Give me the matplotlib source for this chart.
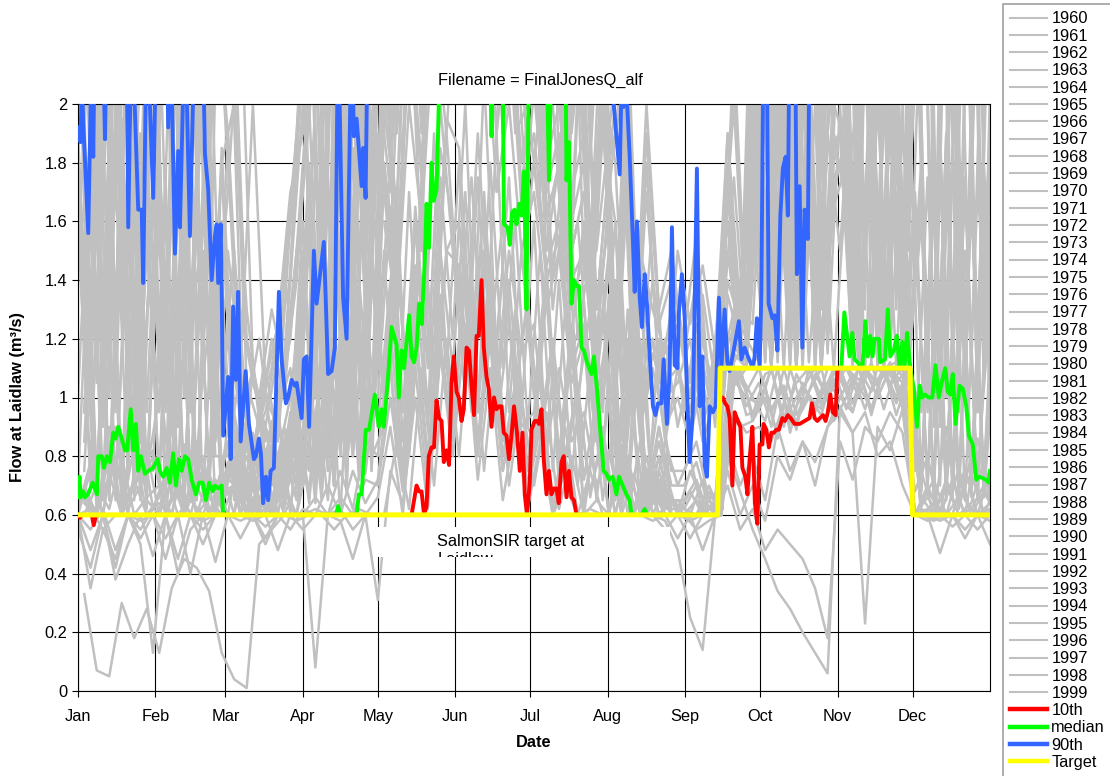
import matplotlib
matplotlib.use('Agg')
import matplotlib.pyplot as plt
from matplotlib.patches import Rectangle

plt.rcParams['font.family'] = ['Liberation Sans', 'DejaVu Sans']
plt.rcParams['font.size'] = 11.8

month_days = [0, 31, 59, 90, 120, 151, 181, 212, 243, 273, 304, 334]
month_labels = ['Jan', 'Feb', 'Mar', 'Apr', 'May', 'Jun',
                'Jul', 'Aug', 'Sep', 'Oct', 'Nov', 'Dec']
flow_ticks = [0, 0.2, 0.4, 0.6, 0.8, 1.0, 1.2, 1.4, 1.6, 1.8, 2.0]
flow_tick_labels = ['0', '0.2', '0.4', '0.6', '0.8', '1', '1.2', '1.4', '1.6', '1.8', '2']

# simulated flow for each year, every 5th day, in hundredths of m3/s
sample_days = list(range(0, 366, 5))
q1960 = [180, 95, 260, 110, 310, 120, 250, 100, 330, 130, 220, 90, 190, 95, 80, 110, 85, 140,
         230, 100, 290, 120, 340, 150, 380, 200, 450, 250, 520, 300, 610, 350, 540, 300, 470, 260,
         420, 200, 350, 180, 300, 150, 240, 110, 210, 95, 120, 85, 110, 90, 120, 100, 180, 115,
         220, 120, 280, 130, 340, 125, 300, 410, 130, 350, 120, 290, 140, 250, 95, 310, 110, 260, 100, 190]
q1961 = [85, 170, 70, 190, 75, 180, 110, 65, 170, 70, 155, 65, 70, 60, 95, 60, 80, 65,
         110, 65, 160, 75, 180, 80, 180, 120, 240, 150, 290, 210, 330, 240, 280, 190, 250, 170,
         220, 150, 180, 120, 160, 95, 110, 65, 150, 60, 120, 60, 60, 60, 70, 60, 115, 110,
         180, 110, 200, 110, 190, 115, 210, 210, 112, 180, 110, 190, 110, 95, 170, 70, 180, 75, 160, 85]
q1962 = [60, 75, 60, 90, 62, 70, 80, 60, 95, 65, 60, 72, 60, 85, 62, 90, 66, 95,
         70, 105, 65, 120, 80, 130, 90, 140, 75, 160, 95, 175, 120, 200, 95, 180, 110, 160,
         90, 150, 75, 130, 70, 110, 65, 95, 60, 85, 60, 70, 60, 60, 60, 60, 100, 108,
         100, 92, 110, 88, 105, 95, 110, 110, 98, 110, 104, 112, 100, 60, 70, 60, 85, 65, 60, 75]
q1963 = [240, 105, 290, 130, 220, 95, 190, 280, 100, 230, 120, 300, 210, 105, 90, 120, 100, 150,
         160, 240, 110, 310, 140, 280, 300, 420, 220, 480, 260, 560, 470, 590, 300, 500, 280, 440,
         310, 380, 170, 290, 140, 240, 170, 210, 100, 180, 105, 130, 95, 125, 100, 140, 200, 120,
         250, 130, 320, 115, 280, 140, 350, 290, 380, 120, 310, 130, 270, 320, 90, 260, 120, 290, 105, 250]
q1964 = [160, 70, 190, 65, 170, 85, 75, 175, 70, 190, 65, 150, 90, 65, 110, 75, 60, 85,
         70, 150, 75, 180, 80, 190, 150, 230, 180, 270, 200, 310, 260, 340, 220, 290, 210, 250,
         180, 230, 140, 190, 120, 150, 95, 160, 70, 140, 65, 85, 70, 80, 60, 65, 120, 140,
         160, 115, 210, 112, 220, 110, 190, 150, 220, 110, 200, 115, 190, 160, 70, 190, 75, 170, 65, 150]
q1965 = [70, 60, 85, 60, 95, 65, 60, 90, 62, 78, 60, 68, 80, 60, 95, 62, 85, 70,
         110, 68, 125, 75, 140, 90, 150, 80, 170, 95, 190, 110, 180, 100, 210, 115, 175, 95,
         160, 80, 140, 72, 120, 65, 100, 62, 90, 60, 75, 60, 60, 60, 60, 60, 110, 94,
         96, 110, 90, 108, 100, 94, 110, 102, 110, 96, 110, 105, 110, 75, 60, 90, 62, 80, 60, 70]
q1966 = [150, 230, 90, 200, 280, 100, 220, 95, 260, 110, 210, 85, 120, 95, 75, 90, 80, 100,
         140, 190, 95, 230, 120, 250, 330, 180, 410, 220, 460, 260, 520, 300, 580, 330, 400, 250,
         360, 170, 320, 160, 270, 130, 200, 95, 175, 90, 110, 90, 100, 85, 110, 95, 150, 120,
         180, 115, 230, 125, 260, 130, 240, 330, 125, 290, 135, 260, 120, 210, 280, 95, 240, 110, 260, 90]
q1967 = [95, 180, 65, 160, 70, 190, 170, 70, 150, 65, 180, 75, 70, 80, 60, 90, 65, 60,
         95, 160, 70, 175, 80, 160, 200, 160, 260, 190, 320, 250, 380, 290, 330, 250, 300, 220,
         250, 190, 210, 150, 170, 110, 150, 70, 140, 65, 90, 65, 62, 70, 60, 60, 125, 115,
         190, 112, 170, 110, 200, 118, 165, 180, 110, 200, 115, 170, 110, 70, 180, 75, 165, 68, 150, 140]
q1968 = [60, 48, 60, 42, 60, 55, 62, 60, 70, 60, 58, 60, 60, 60, 60, 52, 60, 60,
         60, 66, 60, 75, 62, 85, 80, 125, 70, 140, 90, 150, 110, 170, 95, 145, 85, 130,
         75, 110, 62, 90, 60, 75, 60, 60, 60, 60, 60, 60, 60, 58, 60, 60, 95, 90,
         92, 100, 88, 96, 104, 98, 105, 100, 108, 96, 110, 105, 110, 60, 66, 60, 72, 60, 60, 62]
q1969 = [290, 120, 330, 140, 190, 270, 105, 240, 130, 310, 100, 180, 200, 130, 95, 110, 140, 190,
         270, 120, 330, 150, 380, 170, 420, 250, 500, 300, 590, 330, 560, 640, 350, 550, 300, 510,
         390, 220, 300, 190, 230, 150, 190, 230, 110, 200, 130, 150, 115, 140, 105, 120, 220, 125,
         300, 135, 260, 120, 310, 145, 380, 350, 150, 420, 130, 360, 160, 280, 115, 340, 130, 300, 120, 270]
q1970 = [160, 75, 185, 70, 155, 65, 180, 68, 170, 70, 150, 80, 80, 110, 70, 62, 90, 75,
         150, 70, 170, 80, 160, 75, 210, 170, 270, 220, 240, 300, 280, 350, 240, 270, 190, 230,
         160, 200, 130, 170, 100, 130, 80, 140, 65, 120, 65, 75, 60, 75, 65, 60, 118, 130,
         125, 200, 112, 210, 110, 200, 115, 200, 110, 240, 112, 190, 115, 160, 70, 180, 66, 150, 75, 130]
q1971 = [68, 60, 80, 60, 72, 60, 64, 60, 78, 60, 66, 60, 70, 88, 60, 78, 64, 92,
         68, 115, 72, 130, 78, 145, 100, 155, 85, 170, 105, 190, 130, 175, 105, 190, 95, 150,
         100, 145, 80, 125, 72, 100, 60, 88, 62, 80, 60, 66, 60, 60, 60, 60, 104, 110,
         110, 95, 104, 90, 110, 98, 106, 110, 100, 112, 96, 110, 104, 62, 60, 70, 60, 64, 78, 60]
q1972 = [200, 310, 100, 250, 90, 220, 260, 110, 230, 95, 280, 120, 170, 240, 110, 85, 95, 160,
         210, 100, 260, 130, 290, 350, 390, 220, 370, 520, 280, 600, 650, 380, 600, 330, 530, 290,
         430, 200, 370, 170, 290, 140, 220, 100, 200, 95, 140, 110, 130, 105, 120, 95, 170, 120,
         210, 260, 125, 240, 115, 290, 140, 260, 310, 130, 380, 120, 330, 290, 105, 350, 120, 300, 95, 280]
q1973 = [75, 160, 65, 175, 68, 150, 95, 170, 62, 165, 70, 140, 65, 90, 60, 60, 70, 80,
         85, 150, 70, 170, 75, 160, 160, 130, 200, 160, 230, 190, 260, 210, 240, 170, 200, 150,
         170, 130, 150, 105, 120, 85, 130, 65, 110, 62, 72, 60, 60, 65, 60, 60, 112, 120,
         112, 185, 110, 195, 112, 170, 110, 175, 112, 200, 110, 180, 115, 70, 165, 68, 155, 170, 72, 140]
q1974 = [170, 95, 320, 110, 240, 140, 200, 270, 90, 240, 105, 150, 150, 110, 200, 105, 125, 170,
         190, 260, 125, 300, 150, 330, 450, 260, 550, 300, 620, 350, 700, 450, 660, 400, 580, 330,
         480, 250, 420, 220, 350, 180, 260, 120, 230, 105, 160, 100, 150, 125, 145, 115, 190, 130,
         230, 120, 270, 140, 250, 115, 270, 310, 135, 280, 350, 125, 300, 240, 300, 100, 270, 115, 290, 250]
q1975 = [190, 70, 150, 195, 65, 160, 70, 175, 65, 160, 75, 185, 95, 70, 85, 60, 75, 95,
         170, 75, 190, 80, 200, 90, 250, 200, 310, 240, 350, 280, 420, 330, 370, 290, 330, 260,
         270, 210, 230, 170, 190, 130, 160, 70, 140, 68, 100, 75, 75, 85, 65, 70, 130, 120,
         210, 115, 190, 112, 220, 115, 200, 230, 115, 210, 110, 220, 112, 170, 70, 190, 65, 180, 72, 160]
q1976 = [62, 78, 60, 88, 65, 74, 82, 62, 70, 60, 76, 60, 90, 60, 80, 68, 96, 62,
         100, 72, 120, 82, 135, 95, 100, 165, 85, 145, 115, 185, 160, 110, 190, 120, 160, 100,
         135, 85, 115, 78, 100, 68, 85, 60, 78, 60, 68, 60, 60, 60, 60, 60, 98, 110,
         92, 104, 86, 110, 96, 108, 100, 108, 95, 110, 100, 110, 96, 68, 80, 60, 72, 60, 86, 66]
q1977 = [33, 7, 5, 30, 18, 28, 13, 35, 45, 42, 34, 13, 4, 1, 50, 55, 60, 58,
         60, 60, 55, 60, 62, 60, 60, 85, 62, 110, 70, 120, 80, 135, 75, 120, 70, 100,
         70, 95, 62, 80, 60, 65, 60, 60, 60, 60, 60, 60, 60, 55, 58, 60, 95, 88,
         90, 85, 98, 92, 100, 96, 104, 110, 106, 110, 110, 112, 110, 60, 58, 60, 60, 62, 60, 60]
q1978 = [100, 190, 68, 175, 72, 190, 180, 66, 195, 70, 170, 62, 85, 60, 75, 65, 95, 110,
         70, 180, 75, 195, 85, 200, 220, 180, 280, 230, 340, 260, 360, 300, 390, 280, 320, 240,
         230, 180, 200, 140, 160, 105, 140, 65, 130, 62, 80, 62, 65, 60, 72, 60, 140, 125,
         220, 112, 200, 115, 230, 110, 190, 230, 115, 260, 110, 200, 118, 170, 68, 180, 70, 175, 65, 160]
q1979 = [260, 110, 220, 300, 95, 240, 180, 90, 260, 120, 210, 290, 230, 120, 100, 130, 110, 180,
         250, 110, 280, 140, 350, 160, 360, 440, 250, 510, 280, 570, 520, 610, 300, 530, 270, 480,
         350, 180, 280, 160, 250, 130, 180, 220, 105, 190, 125, 140, 120, 155, 105, 130, 210, 125,
         270, 130, 300, 115, 330, 140, 310, 380, 140, 330, 125, 400, 150, 300, 110, 280, 95, 330, 120, 290]
q1980 = [70, 170, 65, 180, 160, 68, 175, 68, 185, 65, 160, 130, 100, 75, 60, 80, 65, 90,
         160, 70, 175, 80, 185, 85, 190, 150, 250, 200, 280, 230, 310, 250, 290, 210, 260, 190,
         200, 160, 170, 130, 140, 100, 130, 65, 120, 62, 75, 60, 60, 68, 60, 60, 135, 118,
         195, 112, 185, 110, 210, 115, 185, 190, 112, 215, 110, 210, 115, 75, 175, 70, 185, 65, 170, 120]
q1981 = [66, 60, 90, 60, 70, 82, 60, 72, 60, 85, 62, 60, 60, 92, 62, 84, 66, 98,
         64, 118, 70, 135, 72, 150, 105, 170, 80, 140, 125, 195, 185, 120, 165, 100, 140, 90,
         95, 140, 78, 120, 62, 95, 60, 90, 60, 76, 60, 64, 60, 60, 60, 60, 110, 97,
         105, 90, 110, 94, 102, 110, 92, 100, 110, 94, 110, 98, 110, 60, 64, 60, 76, 60, 68, 60]
q1982 = [210, 290, 95, 230, 110, 310, 240, 100, 300, 120, 160, 250, 180, 100, 85, 95, 120, 140,
         200, 280, 120, 320, 140, 360, 410, 240, 490, 280, 560, 320, 600, 340, 570, 300, 500, 270,
         400, 190, 340, 170, 280, 140, 210, 100, 190, 90, 115, 100, 105, 120, 90, 110, 160, 115,
         200, 240, 120, 220, 125, 260, 120, 280, 120, 320, 135, 270, 115, 230, 270, 95, 250, 105, 270, 230]
q1983 = [170, 70, 165, 62, 185, 75, 100, 180, 66, 170, 70, 180, 75, 90, 65, 60, 70, 60,
         80, 165, 70, 175, 75, 170, 170, 140, 220, 175, 260, 210, 290, 230, 260, 200, 230, 170,
         190, 145, 160, 115, 130, 90, 125, 62, 115, 60, 70, 60, 60, 60, 65, 60, 120, 112,
         175, 110, 195, 112, 185, 110, 170, 190, 110, 185, 115, 200, 112, 160, 68, 175, 66, 165, 72, 150]
q1984 = [60, 35, 55, 45, 60, 50, 13, 60, 45, 60, 55, 60, 60, 52, 60, 60, 48, 60,
         60, 8, 60, 62, 55, 60, 66, 90, 60, 110, 68, 120, 85, 140, 80, 125, 75, 100,
         75, 95, 62, 78, 60, 60, 60, 60, 60, 60, 60, 55, 60, 60, 60, 60, 85, 70,
         80, 65, 90, 75, 85, 70, 90, 100, 95, 110, 100, 110, 105, 60, 60, 47, 60, 55, 60, 50]
q1985 = [140, 65, 185, 70, 175, 62, 185, 70, 165, 66, 190, 68, 70, 60, 80, 70, 85, 100,
         180, 75, 195, 82, 190, 90, 240, 190, 300, 250, 330, 270, 400, 320, 350, 270, 310, 240,
         250, 190, 220, 160, 180, 120, 165, 70, 150, 66, 90, 70, 70, 78, 62, 65, 125, 135,
         205, 112, 215, 110, 200, 118, 190, 165, 210, 112, 200, 110, 205, 70, 175, 65, 180, 72, 165, 110]
q1986 = [190, 100, 240, 170, 280, 90, 270, 115, 240, 95, 260, 105, 140, 90, 110, 80, 100, 120,
         180, 230, 100, 270, 130, 310, 340, 400, 220, 450, 260, 530, 480, 560, 300, 490, 260, 420,
         330, 180, 300, 150, 240, 120, 190, 160, 95, 130, 100, 120, 90, 110, 85, 100, 150, 115,
         190, 230, 120, 210, 115, 240, 130, 250, 120, 290, 130, 310, 125, 210, 250, 90, 230, 100, 240, 210]
q1987 = [60, 70, 62, 80, 60, 66, 70, 60, 84, 60, 74, 62, 85, 60, 94, 64, 80, 66,
         95, 70, 110, 78, 125, 80, 90, 145, 100, 160, 85, 150, 145, 95, 170, 105, 150, 115,
         125, 82, 110, 85, 95, 70, 82, 60, 74, 60, 68, 60, 60, 60, 60, 60, 106, 100,
         98, 110, 93, 105, 110, 97, 108, 110, 104, 96, 110, 100, 110, 64, 72, 60, 66, 74, 60, 62]
q1988 = [60, 55, 62, 48, 60, 58, 60, 52, 60, 60, 50, 60, 60, 60, 58, 60, 60, 55,
         62, 60, 70, 60, 75, 64, 72, 110, 70, 125, 80, 135, 95, 145, 85, 130, 80, 105,
         70, 95, 62, 80, 60, 62, 60, 60, 60, 60, 60, 58, 48, 25, 14, 60, 70, 55,
         62, 48, 55, 50, 45, 35, 18, 85, 72, 90, 85, 95, 88, 60, 60, 58, 60, 60, 55, 60]
q1989 = [165, 68, 190, 65, 175, 70, 160, 66, 185, 70, 165, 62, 80, 65, 60, 75, 60, 70,
         155, 68, 170, 72, 185, 80, 180, 145, 230, 180, 270, 220, 300, 240, 270, 200, 240, 180,
         210, 160, 180, 130, 150, 100, 125, 62, 120, 62, 80, 62, 62, 60, 68, 60, 128, 115,
         185, 110, 200, 114, 190, 110, 180, 200, 110, 190, 115, 205, 112, 68, 170, 70, 175, 66, 180, 105]
q1990 = [230, 105, 260, 120, 300, 95, 160, 230, 100, 270, 115, 240, 190, 110, 80, 100, 90, 130,
         170, 220, 100, 260, 125, 290, 320, 380, 230, 440, 270, 500, 540, 320, 520, 290, 460, 250,
         380, 190, 320, 160, 260, 140, 200, 105, 180, 95, 120, 105, 110, 95, 125, 90, 170, 120,
         240, 120, 280, 130, 300, 125, 280, 320, 130, 370, 140, 330, 120, 270, 100, 300, 115, 270, 95, 260]
q1991 = [115, 195, 70, 190, 68, 165, 70, 190, 66, 170, 72, 160, 90, 70, 60, 65, 80, 95,
         75, 185, 70, 190, 80, 195, 230, 190, 290, 220, 310, 260, 340, 280, 310, 240, 280, 210,
         240, 180, 200, 150, 170, 115, 170, 68, 150, 66, 85, 65, 65, 72, 60, 62, 130, 125,
         215, 110, 205, 115, 215, 112, 200, 185, 112, 220, 110, 210, 115, 180, 68, 190, 70, 175, 66, 135]
q1992 = [60, 62, 55, 60, 60, 52, 60, 45, 60, 40, 60, 60, 60, 60, 60, 56, 60, 60,
         60, 62, 60, 66, 60, 72, 70, 100, 68, 120, 75, 130, 90, 140, 80, 120, 75, 100,
         68, 90, 60, 76, 60, 60, 60, 60, 60, 60, 60, 60, 60, 52, 60, 60, 80, 68,
         55, 45, 34, 28, 20, 13, 6, 97, 88, 95, 80, 85, 70, 60, 58, 60, 56, 60, 60, 58]
q1993 = [64, 60, 74, 60, 84, 60, 66, 78, 60, 70, 60, 76, 60, 84, 60, 92, 62, 88,
         66, 108, 76, 124, 86, 140, 100, 160, 90, 175, 105, 150, 160, 105, 150, 90, 125, 95,
         85, 135, 70, 118, 60, 92, 60, 84, 60, 72, 60, 66, 60, 60, 60, 60, 110, 102,
         110, 96, 104, 89, 110, 100, 110, 96, 110, 102, 110, 94, 108, 66, 60, 72, 60, 62, 70, 60]
q1994 = [55, 42, 60, 38, 50, 60, 46, 60, 40, 55, 60, 44, 60, 58, 60, 50, 60, 60,
         55, 60, 60, 58, 45, 60, 31, 75, 64, 100, 62, 115, 80, 125, 72, 110, 65, 90,
         62, 85, 60, 70, 60, 60, 60, 60, 60, 60, 58, 60, 52, 60, 48, 60, 75, 60,
         70, 58, 80, 72, 85, 78, 90, 95, 88, 23, 90, 82, 96, 60, 62, 60, 60, 52, 60, 60]
q1995 = [125, 62, 190, 65, 180, 70, 175, 66, 195, 70, 170, 68, 85, 60, 70, 60, 65, 80,
         165, 70, 185, 68, 190, 75, 210, 165, 270, 210, 300, 240, 330, 260, 300, 220, 260, 200,
         220, 170, 190, 140, 150, 105, 145, 62, 135, 60, 80, 60, 60, 65, 60, 60, 122, 130,
         190, 112, 210, 110, 200, 115, 185, 195, 110, 215, 112, 205, 110, 165, 65, 185, 70, 170, 66, 120]
q1996 = [280, 120, 250, 95, 230, 290, 110, 290, 100, 250, 125, 230, 260, 130, 105, 90, 115, 160,
         220, 110, 240, 130, 300, 150, 370, 450, 260, 530, 300, 590, 560, 630, 340, 570, 300, 490,
         370, 200, 290, 170, 220, 140, 210, 180, 100, 150, 130, 115, 125, 100, 135, 105, 190, 120,
         260, 125, 310, 140, 290, 120, 330, 360, 140, 400, 125, 340, 150, 290, 105, 320, 120, 300, 110, 280]
q1997 = [95, 175, 66, 185, 130, 68, 185, 68, 175, 65, 170, 70, 75, 60, 65, 60, 90, 70,
         160, 66, 175, 70, 180, 75, 175, 140, 225, 175, 255, 205, 280, 220, 260, 190, 230, 165,
         180, 140, 155, 110, 125, 85, 135, 62, 125, 60, 68, 60, 60, 60, 62, 60, 118, 110,
         170, 110, 195, 112, 180, 110, 175, 185, 112, 195, 110, 200, 114, 68, 170, 66, 180, 70, 175, 90]
q1998 = [70, 60, 66, 78, 60, 90, 62, 74, 60, 66, 80, 60, 78, 60, 88, 60, 94, 60,
         110, 64, 128, 60, 142, 74, 110, 180, 95, 165, 110, 200, 150, 100, 175, 95, 145, 105,
         130, 90, 120, 80, 105, 66, 90, 60, 80, 60, 70, 60, 60, 60, 60, 60, 102, 110,
         94, 108, 110, 91, 103, 110, 99, 110, 98, 110, 105, 110, 97, 60, 68, 62, 60, 76, 60, 64]
q1999 = [160, 220, 100, 270, 120, 210, 230, 95, 270, 110, 240, 100, 150, 95, 120, 85, 105, 140,
         200, 100, 250, 120, 280, 135, 350, 210, 430, 250, 490, 290, 500, 560, 320, 510, 280, 460,
         340, 170, 310, 150, 250, 130, 180, 200, 100, 170, 110, 125, 100, 115, 95, 120, 175, 115,
         210, 120, 250, 115, 270, 130, 260, 300, 125, 330, 130, 290, 120, 240, 280, 100, 260, 110, 250, 230]

years = list(range(1960, 2000))
year_flows = [q1960, q1961, q1962, q1963, q1964, q1965, q1966, q1967, q1968, q1969,
              q1970, q1971, q1972, q1973, q1974, q1975, q1976, q1977, q1978, q1979,
              q1980, q1981, q1982, q1983, q1984, q1985, q1986, q1987, q1988, q1989,
              q1990, q1991, q1992, q1993, q1994, q1995, q1996, q1997, q1998, q1999]

# percentile traces as (day of year, flow m3/s)
p10_points = [(0, 0.60), (0.8, 0.59), (1.6, 0.60), (5.5, 0.60), (6.3, 0.565), (7.2, 0.60),
              (133.5, 0.60), (135.5, 0.70), (136.5, 0.68), (137.5, 0.68), (138.5, 0.60), (139.5, 0.63),
              (140.4, 0.80), (141.5, 0.83), (142.5, 0.83), (143.5, 0.99), (144.5, 0.93), (145.5, 0.92),
              (146.4, 0.78), (147.5, 0.82), (148.5, 0.77), (149.5, 1.05), (150.4, 1.14), (151.5, 1.02),
              (152.4, 1.00), (153.5, 0.92), (154.4, 0.96), (155.5, 1.17), (156.5, 1.16), (157.5, 1.04),
              (158.5, 0.94), (159.5, 1.21), (160.4, 1.21), (161.5, 1.40), (162.4, 1.17), (163.5, 1.07),
              (164.4, 1.03), (165.5, 0.90), (166.5, 1.00), (167.5, 0.96), (168.5, 0.97), (169.5, 0.97),
              (170.4, 0.88), (171.5, 0.87), (172.5, 0.79), (173.6, 0.88), (174.5, 0.97), (175.7, 0.88),
              (176.8, 0.75), (177.9, 0.88), (178.8, 0.67), (179.7, 0.60), (180.8, 0.71), (181.5, 0.89),
              (182.8, 0.92), (183.7, 0.92), (184.5, 0.91), (185.5, 0.96), (186.4, 0.79), (187.5, 0.67),
              (188.5, 0.75), (189.5, 0.67), (190.4, 0.69), (191.5, 0.69), (192.4, 0.64), (193.5, 0.78),
              (194.4, 0.80), (195.5, 0.66), (196.5, 0.75), (197.5, 0.66), (198.5, 0.65), (199.5, 0.60),
              (256, 0.60), (257, 1.00), (258, 1.00), (259, 0.98), (259.9, 0.97), (260.8, 0.93),
              (261.9, 0.70), (262.8, 0.95), (264.1, 0.92), (265.1, 0.90), (265.9, 0.76), (267.1, 0.73),
              (267.9, 0.67), (268.8, 0.79), (269.9, 0.90), (270.9, 0.64), (271.9, 0.57), (272.8, 0.84),
              (273.9, 0.84), (274.4, 0.91), (275.5, 0.89), (276.5, 0.83), (277.5, 0.88), (278.5, 0.88),
              (279.5, 0.89), (280.5, 0.89), (281.9, 0.93), (282.9, 0.92), (284.1, 0.94), (285.2, 0.93),
              (286.8, 0.91), (288.8, 0.91), (290.8, 0.92), (292.8, 0.93), (293.7, 0.98), (294.8, 0.93),
              (295.9, 0.92), (297, 0.93), (298.2, 0.94), (299.2, 0.92), (300.1, 0.95), (301.1, 1.01),
              (302.1, 0.95), (303.2, 0.94), (303.9, 1.09), (304.5, 1.10), (333, 1.10), (334, 0.60),
              (365, 0.60)]
p50_points = [(0, 0.66), (0.6, 0.73), (1.1, 0.66), (2.1, 0.68), (2.8, 0.66), (4, 0.67), (5.9, 0.71),
              (7.6, 0.67), (8.1, 0.80), (9.5, 0.80), (10.4, 0.76), (11.5, 0.80), (12.8, 0.78), (14.1, 0.88),
              (15.1, 0.86), (16.1, 0.90), (17.5, 0.86), (18.8, 0.82), (19.7, 0.82), (21.1, 0.96), (22.1, 0.82),
              (23.2, 0.91), (24.1, 0.75), (25.2, 0.80), (26.8, 0.74), (28.1, 0.75), (30.1, 0.76), (31.9, 0.79),
              (32.8, 0.75), (34.1, 0.73), (35.5, 0.76), (36.8, 0.71), (38.1, 0.81), (39.2, 0.70), (40.4, 0.79),
              (41.5, 0.75), (42.8, 0.80), (44.1, 0.79), (45.5, 0.72), (47.2, 0.67), (48.5, 0.71), (49.9, 0.71),
              (51.2, 0.65), (52.5, 0.71), (53.9, 0.68), (54.8, 0.70), (56.1, 0.69), (57.5, 0.70), (58.1, 0.60),
              (103.2, 0.60), (104.1, 0.63), (105, 0.60), (111.5, 0.60), (112.4, 0.67), (113.5, 0.67),
              (115.2, 0.89), (116.5, 0.89), (118.8, 1.01), (120.4, 0.90), (121.5, 0.96), (122.4, 0.90),
              (124.1, 1.07), (125.5, 1.24), (127.5, 1.18), (128.4, 1.00), (129.5, 1.16), (130.5, 1.10),
              (132.5, 1.28), (133.5, 1.14), (134.5, 1.12), (135.5, 1.17), (136.5, 1.32), (137.6, 1.25),
              (138.8, 1.47), (139.5, 1.66), (140.5, 1.51), (141.5, 1.80), (142.4, 1.67), (143.5, 1.71),
              (145, 2.20), (152, 2.80), (160, 3.10), (164.8, 2.20), (165.5, 1.89), (166.2, 2.20),
              (169.8, 2.30), (170.5, 1.59), (171.9, 1.58), (172.8, 1.52), (173.7, 1.63), (174.7, 1.64),
              (175.5, 1.59), (176.5, 1.66), (177.5, 1.62), (178.5, 1.77), (179.5, 1.30), (180.5, 2.20),
              (184, 2.60), (187.5, 2.20), (188.5, 1.74), (189.5, 2.20), (192, 2.50), (195.2, 2.10),
              (195.5, 1.74), (196.5, 1.87), (197.5, 1.32), (198.5, 1.40), (199.5, 1.38), (200.5, 1.38),
              (201.5, 1.17), (202.5, 1.16), (203.7, 1.12), (205.5, 1.08), (206.5, 1.14), (207.9, 1.01),
              (209.2, 0.87), (210.4, 0.75), (211.5, 0.74), (212.5, 0.72), (214, 0.73), (215.5, 0.67),
              (216.5, 0.73), (217.5, 0.71), (219.5, 0.67), (220.8, 0.65), (221.5, 0.60), (225.5, 0.60),
              (226.8, 0.62), (227.8, 0.60), (256, 0.60), (257, 1.10), (305.5, 1.10), (306.7, 1.29),
              (308.8, 1.14), (309.9, 1.22), (310.8, 1.13), (312, 1.12), (313.9, 1.10), (315.1, 1.26),
              (316.1, 1.14), (317.1, 1.21), (318, 1.14), (318.8, 1.20), (320.5, 1.20), (321.1, 1.12),
              (323, 1.13), (324.1, 1.30), (325.1, 1.14), (326.5, 1.16), (327.7, 1.21), (328.8, 1.10),
              (329.9, 1.19), (330.8, 1.10), (331.8, 1.22), (333.1, 1.10), (334.5, 1.03), (335.8, 0.90),
              (336.9, 1.04), (337.8, 1.00), (339, 1.01), (340.5, 1.00), (341.9, 1.00), (343.2, 1.11),
              (344.5, 1.00), (345.9, 1.06), (347.1, 1.10), (348.1, 1.02), (349.1, 1.01), (350.1, 1.08),
              (351.2, 0.91), (352.8, 1.04), (354.1, 1.03), (355.5, 0.97), (356.5, 0.87), (358.1, 0.84),
              (359.5, 0.72), (360.8, 0.73), (363.4, 0.72), (364.5, 0.71), (365, 0.75)]
p90_points = [(0, 1.92), (1, 1.87), (1.5, 2.10), (2.1, 1.94), (4.1, 1.56), (5.5, 2.20), (6.1, 1.82),
              (6.8, 2.30), (10, 2.20), (10.8, 1.88), (11.6, 2.30), (19.4, 2.30), (20.1, 1.58), (21.5, 2.30),
              (24.1, 1.64), (25.5, 1.64), (26.1, 1.39), (27.5, 2.30), (30.1, 1.68), (31.5, 2.30), (35.4, 2.30),
              (36.1, 1.92), (37, 2.30), (38.8, 1.49), (40.1, 1.84), (40.8, 1.58), (42.8, 2.30), (44.8, 1.55),
              (46.8, 2.30), (50, 2.20), (50.8, 1.83), (52.1, 1.71), (53.5, 1.40), (54.8, 1.55), (55.5, 1.59),
              (56.1, 1.39), (57.1, 1.59), (57.5, 1.38), (58.1, 0.87), (60.1, 1.07), (61.1, 0.79), (62.1, 1.31),
              (63.2, 1.06), (64.1, 1.36), (65.1, 0.85), (67.1, 1.09), (68.4, 0.91), (70.4, 0.79), (71.2, 0.80),
              (72.4, 0.86), (73.2, 0.81), (74.1, 0.64), (75.2, 0.73), (76.1, 0.65), (77.1, 0.75), (78.4, 0.76),
              (80.4, 1.36), (81.5, 1.13), (83.2, 0.98), (84.1, 1.00), (85.5, 1.06), (86.8, 1.04), (87.5, 1.05),
              (89.5, 0.93), (90.4, 1.13), (91.5, 1.14), (92.5, 0.90), (94.4, 1.50), (95.5, 1.32), (98.4, 1.53),
              (100.1, 1.08), (101.5, 1.09), (102.8, 1.17), (104.1, 2.30), (106.1, 1.34), (107.5, 1.20),
              (109.5, 2.30), (110.4, 1.89), (111.5, 1.95), (113.5, 1.72), (114.1, 1.85), (115.1, 1.68),
              (116, 2.30), (130, 2.90), (150, 3.60), (175, 3.80), (195, 3.00), (212, 2.30), (214.4, 2.00),
              (216.8, 1.76), (217.6, 2.10), (218.4, 1.99), (219.2, 2.10), (220.8, 1.82), (222.1, 1.53),
              (222.8, 1.36), (223.7, 1.60), (224.8, 1.34), (225.7, 1.24), (226.8, 1.42), (227.7, 1.32),
              (228.8, 1.14), (230.1, 0.97), (231.1, 0.94), (232.1, 0.98), (233.5, 0.98), (234.4, 1.13),
              (235.7, 0.91), (236.8, 1.09), (237.7, 1.58), (238.8, 1.11), (239.9, 1.10), (240.5, 1.29),
              (241.7, 1.42), (242.8, 1.27), (243.7, 1.03), (244.8, 0.78), (246.1, 0.96), (247.7, 1.78),
              (248.8, 0.97), (249.9, 1.14), (250.8, 0.77), (251.7, 0.73), (252.8, 0.97), (254.1, 0.95),
              (255.2, 0.97), (256.5, 1.34), (257.5, 1.10), (258.8, 1.30), (259.9, 1.12), (260.8, 1.09),
              (262.4, 1.16), (264.5, 1.26), (265.5, 1.13), (266.8, 1.17), (268.1, 1.14), (270.1, 1.10),
              (270.8, 1.14), (271.7, 1.27), (272.8, 1.10), (273.5, 1.36), (274.4, 2.30), (275.6, 2.30),
              (276.4, 1.32), (277.9, 1.27), (278.8, 1.28), (279.9, 1.16), (281.1, 1.62), (282.1, 1.78),
              (283.2, 1.82), (284.1, 1.62), (284.8, 2.30), (287, 2.30), (287.7, 1.42), (288.8, 1.72),
              (289.9, 1.17), (290.8, 1.64), (292.1, 1.54), (292.8, 2.30), (310, 3.00), (340, 2.80),
              (365, 2.60)]
target_day = [0, 256, 257, 333, 334, 365]
target_flow = [0.6, 0.6, 1.1, 1.1, 0.6, 0.6]

W, H = 1110, 776
fig = plt.figure(figsize=(W / 100, H / 100), dpi=100)
ax = fig.add_axes([78 / W, 1 - 691 / H, 912 / W, 587 / H])

# alternate years are sampled half a step apart
shifted_days = [d + 2.5 for d in sample_days]
for k, (year, q) in enumerate(zip(years, year_flows)):
    days = sample_days if k % 2 == 0 else shifted_days
    ax.plot(days, [v / 100 for v in q], color='#c0c0c0', lw=1.8, label=str(year), zorder=2)

p10_day, p10_flow = zip(*p10_points)
p50_day, p50_flow = zip(*p50_points)
p90_day, p90_flow = zip(*p90_points)
ax.plot(p10_day, p10_flow, color='#ff0000', lw=2.8, label='10th', zorder=4)
ax.plot(p50_day, p50_flow, color='#00ff00', lw=2.8, label='median', zorder=4)
ax.plot(p90_day, p90_flow, color='#3366ff', lw=2.8, label='90th', zorder=4)
ax.plot(target_day, target_flow, color='#ffff00', lw=3.6, label='Target', zorder=5)

ax.set_xlim(0, 365)
ax.set_ylim(0, 2)
ax.set_xticks(month_days)
ax.set_xticklabels(month_labels)
ax.set_yticks(flow_ticks)
ax.set_yticklabels(flow_tick_labels)
ax.tick_params(axis='both', direction='out', length=4, width=0.8)
ax.tick_params(axis='x', pad=9)
ax.grid(True, color='black', lw=0.8)
ax.set_axisbelow(True)
for s in ax.spines.values():
    s.set_color('black')
    s.set_linewidth(0.8)

ax.set_xlabel('Date', fontweight='bold')
ax.xaxis.set_label_coords(0.5, -0.075)
ax.set_ylabel('Flow at Laidlaw (m³/s)', fontweight='bold')
ax.yaxis.set_label_coords(-0.058, 0.5)

fig.text(540 / W, 1 - 80 / H, 'Filename = FinalJonesQ_alf', ha='center', va='center')

# label box for the target line, its second line cut off by the box edge
box = Rectangle((0.328, 0.228), 0.321, 0.051, transform=ax.transAxes,
                facecolor='white', edgecolor='none', zorder=3)
ax.add_patch(box)
note = ax.text(0.394, 0.268, 'SalmonSIR target at\nLaidlaw', transform=ax.transAxes,
               ha='left', va='top', linespacing=1.25, zorder=3.5)
note.set_clip_on(True)
note.set_clip_path(box)

leg = ax.legend(loc='upper left', bbox_to_anchor=(1003 / W, 1 - 4 / H),
                bbox_transform=fig.transFigure, borderaxespad=0, borderpad=0.45,
                handlelength=2.25, handletextpad=0.25, labelspacing=0.14,
                fancybox=False, framealpha=1, edgecolor='#a0a0a0')
leg.get_frame().set_linewidth(1.2)
for line in leg.get_lines():
    if line.get_label() in ('10th', 'median', '90th', 'Target'):
        line.set_linewidth(3.2)
    else:
        line.set_linewidth(1.5)

fig.savefig('out.png', dpi=100)
